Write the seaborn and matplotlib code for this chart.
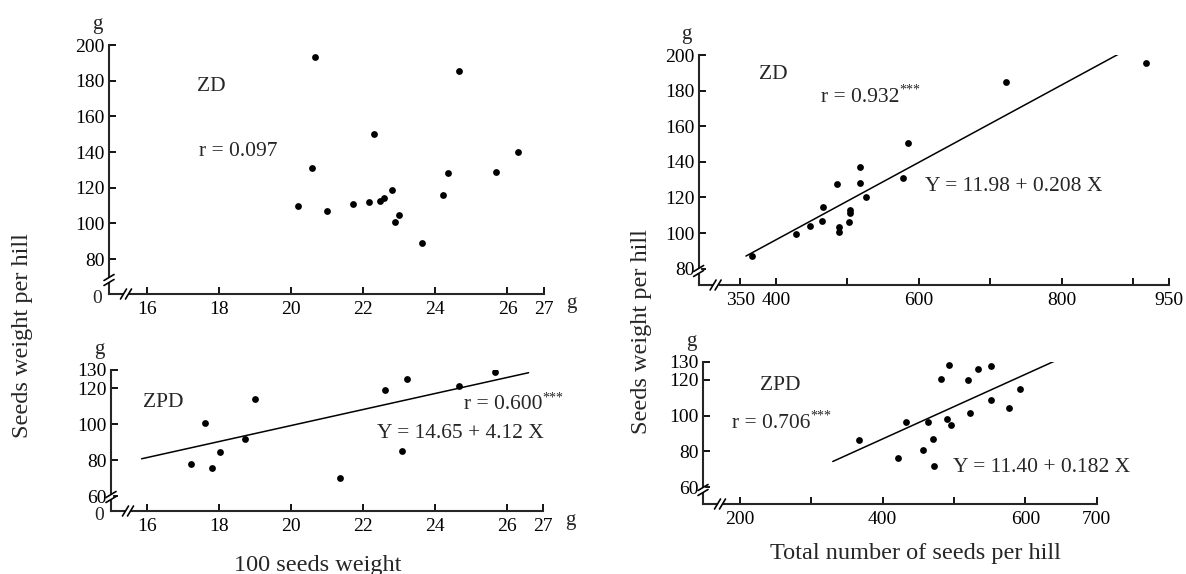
import matplotlib
matplotlib.use("Agg")
import matplotlib.pyplot as plt
import matplotlib.transforms as mtransforms
import seaborn as sns

# ---- data ----
# ZD: 100 seeds weight (g) vs seeds weight per hill (g)
zd_w100_x = [20.2, 20.65, 20.59, 21.0, 21.72, 22.15, 22.31, 22.47, 22.57, 22.79,
             22.89, 22.99, 23.62, 24.21, 24.35, 24.65, 25.67, 26.3]
zd_w100_y = [110, 193, 131, 107, 111, 112, 150, 112.5, 114, 118.5,
             100.5, 104.5, 89, 116, 128.5, 185.5, 129, 140]

# ZPD: 100 seeds weight (g) vs seeds weight per hill (g)
zpd_w100_x = [17.22, 17.61, 17.8, 18.02, 18.71, 19.0, 21.37, 22.6, 23.21, 23.09, 24.67, 25.68]
zpd_w100_y = [78, 100.7, 75.6, 84.4, 91.7, 113.9, 70, 119.1, 125.2, 85, 120.9, 129.1]
zpd_w100_fit_x = [15.85, 26.6]
zpd_w100_fit_y = [80.7, 128.5]

# ZD: total number of seeds per hill vs seeds weight per hill
zd_num_x = [367, 427.6, 446.9, 465.2, 464.1, 485, 488.7, 488.7, 503.3, 503.3,
            502.7, 517.3, 517.9, 525.7, 578.4, 584.1, 721.8, 917.3]
zd_num_y = [87.1, 99.5, 104, 114.8, 106.6, 127.4, 103.6, 100.8, 113, 111.1,
            106, 136.9, 128.3, 120.4, 130.9, 150.4, 184.8, 195.7]
zd_num_fit_x = [358, 884]
zd_num_fit_y = [87.1, 201.5]

# ZPD: total number of seeds per hill vs seeds weight per hill
zpd_num_x = [367.4, 422.1, 432.1, 456.8, 464.2, 470.5, 472.6, 481.6, 493.2, 490.5,
             496.3, 520, 522.6, 533.7, 552.6, 552.6, 577.4, 593.2]
zpd_num_y = [86.4, 76, 96.2, 80.8, 96.2, 86.9, 71.5, 120.3, 128.5, 98.1,
             94.9, 120, 101.2, 125.9, 128, 108.6, 104, 114.8]
zpd_num_fit_x = [330, 640.5]
zpd_num_fit_y = [74.3, 130.4]

w100_ticks = [16, 18, 20, 22, 24, 26, 27]
w100_labels = ["16", "18", "20", "22", "24", "26", "27"]
num_top_ticks = [350, 400, 500, 600, 700, 800, 900, 950]
num_top_labels = ["350", "400", "", "600", "", "800", "", "950"]
num_bot_ticks = [200, 300, 400, 500, 600, 700]
num_bot_labels = ["200", "", "400", "", "600", "700"]
zd_yticks = [80, 100, 120, 140, 160, 180, 200]
zpd_yticks = [60, 80, 100, 120, 130]

sns.set_style("ticks")
plt.rcParams["font.family"] = ["Liberation Serif", "DejaVu Serif"]
plt.rcParams["axes.linewidth"] = 1.5

W, H = 1186, 574
fig = plt.figure(figsize=(W / 100, H / 100), dpi=100)
fig.patch.set_facecolor("white")

TXT = 15.5


def add_px_axes(left, top, right, bottom):
    return fig.add_axes([left / W, 1 - bottom / H, (right - left) / W, (bottom - top) / H])


def draw_breaks(ax, yb=14, xb=17):
    # little "//" marks where the axes are broken, in pixel offsets from the origin corner
    x0, y0 = ax.transAxes.transform((0, 0))
    tr = mtransforms.Affine2D().translate(x0, y0)
    kw = dict(transform=tr, clip_on=False, zorder=6)
    ax.plot([0, 0], [yb - 3, yb + 3], color="white", lw=3, solid_capstyle="butt", **kw)
    ax.plot([xb - 3, xb + 3], [0, 0], color="white", lw=3, solid_capstyle="butt", **kw)
    for d in (-2.5, 2.5):
        ax.plot([-5, 5], [yb + d - 3, yb + d + 3], color="black", lw=1.2, **kw)
        ax.plot([xb + d - 3, xb + d + 3], [-5, 5], color="black", lw=1.2, **kw)


def style_axes(ax, xlim, ylim, xticks, xlabels, yticks):
    ax.set_xlim(*xlim)
    ax.set_ylim(*ylim)
    ax.set_xticks(xticks)
    ax.set_xticklabels(xlabels)
    ax.set_yticks(yticks)
    ax.set_yticklabels([str(t) for t in yticks])
    ax.tick_params(direction="in", length=5, width=1.3, labelsize=14, pad=3, colors="black")
    ax.tick_params(axis="x", pad=5)
    sns.despine(ax=ax)
    ax.set_xlabel("")
    ax.set_ylabel("")
    ax.annotate("g", xy=(0, 1), xycoords="axes fraction", xytext=(-8.5, 15),
                textcoords="offset points", ha="center", va="center", fontsize=15)


def star_text(ax, x, y, s):
    t = ax.text(x, y, s, fontsize=TXT, va="center", ha="left")
    ax.annotate("***", xy=(1, 0.85), xycoords=t, fontsize=10, va="center", ha="left")


# top-left: ZD, 100 seeds weight
ax1 = add_px_axes(109, 45, 543.5, 294)
sns.scatterplot(x=zd_w100_x, y=zd_w100_y, ax=ax1, color="black", s=24, linewidth=0)
style_axes(ax1, (14.95, 27), (60.4, 200), w100_ticks, w100_labels, zd_yticks)
ax1.text(17.4, 177, "ZD", fontsize=TXT, va="center")
ax1.text(17.45, 140.5, "r = 0.097", fontsize=TXT, va="center")

# bottom-left: ZPD, 100 seeds weight
ax2 = add_px_axes(111, 370, 543, 511)
sns.scatterplot(x=zpd_w100_x, y=zpd_w100_y, ax=ax2, color="black", s=24, linewidth=0)
sns.lineplot(x=zpd_w100_fit_x, y=zpd_w100_fit_y, ax=ax2, color="black", lw=1.1, sort=False)
style_axes(ax2, (15.0, 27), (51.7, 130), w100_ticks, w100_labels, zpd_yticks)
ax2.text(15.9, 112.2, "ZPD", fontsize=TXT, va="center")
star_text(ax2, 24.8, 110.6, "r = 0.600")
ax2.text(22.4, 95, "Y = 14.65 + 4.12 X", fontsize=TXT, va="center")

# top-right: ZD, seed number
ax3 = add_px_axes(698.6, 55, 1169, 285)
sns.scatterplot(x=zd_num_x, y=zd_num_y, ax=ax3, color="black", s=24, linewidth=0)
sns.lineplot(x=zd_num_fit_x, y=zd_num_fit_y, ax=ax3, color="black", lw=1.1, sort=False)
style_axes(ax3, (291.7, 950), (70.85, 200), num_top_ticks, num_top_labels, zd_yticks)
ax3.text(376.5, 188.8, "ZD", fontsize=TXT, va="center")
star_text(ax3, 462.7, 176.4, "r = 0.932")
ax3.text(608.6, 125.9, "Y = 11.98 + 0.208 X", fontsize=TXT, va="center")

# bottom-right: ZPD, seed number
ax4 = add_px_axes(703, 362, 1096.6, 504)
sns.scatterplot(x=zpd_num_x, y=zpd_num_y, ax=ax4, color="black", s=24, linewidth=0)
sns.lineplot(x=zpd_num_fit_x, y=zpd_num_fit_y, ax=ax4, color="black", lw=1.1, sort=False)
style_axes(ax4, (148, 700), (50.5, 130), num_bot_ticks, num_bot_labels, zpd_yticks)
ax4.text(228.3, 116.6, "ZPD", fontsize=TXT, va="center")
star_text(ax4, 189, 95.8, "r = 0.706")
ax4.text(498.7, 71.2, "Y = 11.40 + 0.182 X", fontsize=TXT, va="center")

for ax in (ax1, ax2, ax3, ax4):
    draw_breaks(ax)

# origin "0" and unit "g" on the left-hand panels
for ax in (ax1, ax2):
    ax.annotate("0", xy=(0, 0), xycoords="axes fraction", xytext=(-5, -3),
                textcoords="offset points", ha="right", va="center", fontsize=14)
    ax.annotate("g", xy=(1, 0), xycoords="axes fraction", xytext=(20, -7),
                textcoords="offset points", ha="center", va="center", fontsize=15)

fig.text(318 / W, 1 - 565 / H, "100 seeds weight", fontsize=17.5, ha="center", va="center")
fig.text(915 / W, 1 - 553 / H, "Total number of seeds per hill", fontsize=17.5, ha="center", va="center")
fig.text(23 / W, 1 - 336 / H, "Seeds weight per hill", fontsize=17.5, rotation=90, ha="center", va="center")
fig.text(641 / W, 1 - 332 / H, "Seeds weight per hill", fontsize=17.5, rotation=90, ha="center", va="center")

fig.savefig("out.png", dpi=100, facecolor="white")
